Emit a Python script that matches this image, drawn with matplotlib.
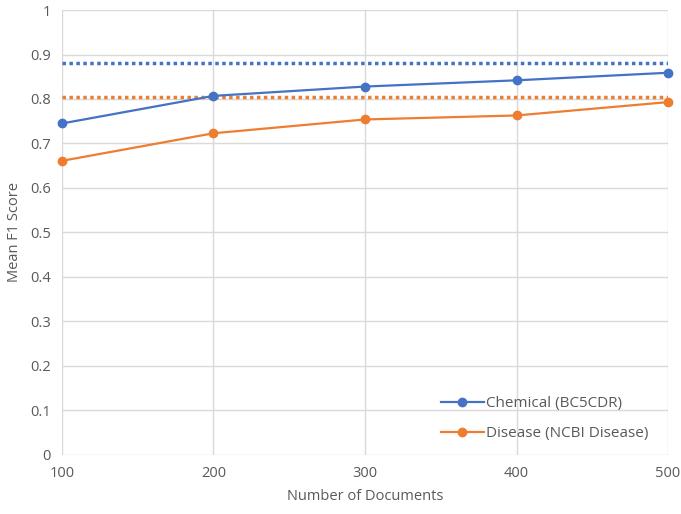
import matplotlib
matplotlib.use("Agg")
import matplotlib.pyplot as plt

docs = [100, 200, 300, 400, 500]
chemical = [0.745, 0.807, 0.828, 0.842, 0.859]
disease = [0.661, 0.723, 0.754, 0.763, 0.793]
chemical_ref = 0.882
disease_ref = 0.805

blue = '#4472C4'
orange = '#ED7D31'
grey = '#595959'

plt.rcParams['font.family'] = ['Open Sans', 'DejaVu Sans']

fig = plt.figure(figsize=(6.81, 5.14), dpi=100)
ax = fig.add_axes([0.091, 0.115, 0.89, 0.8655])

ax.plot(docs, [chemical_ref] * len(docs), color=blue, lw=2.5, ls=(0, (1, 1)))
ax.plot(docs, [disease_ref] * len(docs), color=orange, lw=2.5, ls=(0, (1, 1)))
ax.plot(docs, chemical, color=blue, lw=1.6, marker='o', ms=6, label='Chemical (BC5CDR)', clip_on=False, zorder=4)
ax.plot(docs, disease, color=orange, lw=1.6, marker='o', ms=6, label='Disease (NCBI Disease)', clip_on=False, zorder=4)

ax.set_xlim(100, 500)
ax.set_ylim(0, 1)
ax.set_xticks(docs)
ax.set_yticks([i / 10 for i in range(11)])
ax.set_yticklabels(['0', '0.1', '0.2', '0.3', '0.4', '0.5', '0.6', '0.7', '0.8', '0.9', '1'])
ax.grid(True, color='#d9d9d9', lw=1)
ax.set_axisbelow(True)
for s in ax.spines.values():
    s.set_visible(False)
ax.tick_params(length=0, colors=grey, labelsize=10.5, pad=8)
ax.set_xlabel('Number of Documents', color=grey, fontsize=10.5, labelpad=6)
ax.set_ylabel('Mean F1 Score', color=grey, fontsize=10.5, labelpad=6)

leg = ax.legend(loc='lower right', frameon=False, fontsize=11, handlelength=2.8,
                labelspacing=1.0, borderaxespad=0.5, handletextpad=0.15,
                bbox_to_anchor=(0.99, 0.0))
for t in leg.get_texts():
    t.set_color(grey)

plt.savefig('out.png', dpi=100)
